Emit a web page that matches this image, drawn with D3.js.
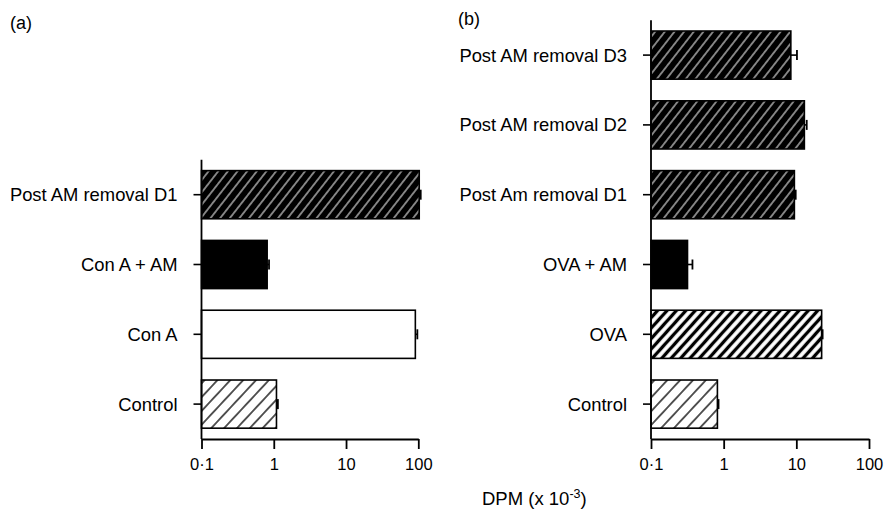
<!DOCTYPE html>
<html><head><meta charset="utf-8">
<script src="https://cdn.jsdelivr.net/npm/d3@7"></script>
<style>body{margin:0;background:#fff}svg{display:block}text{font-family:"Liberation Sans",Arial,Helvetica,sans-serif;fill:#000}</style>
</head><body>
<script>
// Panel (a)
const catsA = ["Post AM removal D1", "Con A + AM", "Con A", "Control"];
const valsA = [103, 0.81, 91, 1.09];
const errA  = [108, 0.86, 97, 1.14];
const fillA = ["dark", "solid", "open", "light"];
// Panel (b)
const catsB = ["Post AM removal D3", "Post AM removal D2", "Post Am removal D1", "OVA + AM", "OVA", "Control"];
const valsB = [8.4, 12.9, 9.4, 0.318, 22.3, 0.82];
const errB  = [10.2, 13.9, 9.8, 0.372, 23, 0.85];
const fillB = ["dark", "dark", "dark", "solid", "heavy", "light"];
const xTicks = [0.1, 1, 10, 100];
const xTickLabels = ["0·1", "1", "10", "100"];

const W = 887, H = 512;
const svg = d3.select("body").append("svg").attr("width", W).attr("height", H);
const defs = svg.append("defs");
function pat(id, w, sw, bg, fg, ang) {
  const p = defs.append("pattern").attr("id", id).attr("patternUnits", "userSpaceOnUse")
    .attr("width", w).attr("height", w).attr("patternTransform", `rotate(${ang})`);
  p.append("rect").attr("width", w).attr("height", w).attr("fill", bg);
  p.append("line").attr("x1", w/2).attr("x2", w/2).attr("y1", 0).attr("y2", w)
    .attr("stroke", fg).attr("stroke-width", sw);
}
pat("p-dark", 7.6, 1, "#000", "#fff", 38);
pat("p-light", 9.4, 1.3, "#fff", "#000", 43);
pat("p-heavy", 7.0, 3.3, "#fff", "#000", 42);
const fillMap = {dark: "url(#p-dark)", solid: "#000", open: "#fff", light: "url(#p-light)", heavy: "url(#p-heavy)"};

const axisY = 439;
const step = 69.8;

function panel(cats, vals, errs, fills, x0, x1, label, lx, ly) {
  const n = cats.length;
  const y = d3.scaleBand().domain(cats).range([axisY - n * step, axisY]).paddingInner(0.31).paddingOuter(0.155);
  const x = d3.scaleLog().domain([0.1, 100]).range([x0, x1]);
  const g = svg.append("g");
  const data = cats.map((c, i) => ({c, v: vals[i], e: errs[i], f: fills[i]}));
  g.selectAll("rect.bar").data(data).join("rect").attr("class", "bar")
    .attr("x", x(0.1)).attr("y", d => y(d.c))
    .attr("width", d => x(d.v) - x(0.1)).attr("height", y.bandwidth())
    .attr("fill", d => fillMap[d.f]).attr("stroke", "#000").attr("stroke-width", 1.6);
  g.selectAll("line.err").data(data).join("line").attr("class", "err")
    .attr("x1", d => x(d.v)).attr("x2", d => x(d.e))
    .attr("y1", d => y(d.c) + y.bandwidth()/2).attr("y2", d => y(d.c) + y.bandwidth()/2)
    .attr("stroke", "#000").attr("stroke-width", 1.6);
  g.selectAll("line.cap").data(data).join("line").attr("class", "cap")
    .attr("x1", d => x(d.e)).attr("x2", d => x(d.e))
    .attr("y1", d => y(d.c) + y.bandwidth()/2 - 5).attr("y2", d => y(d.c) + y.bandwidth()/2 + 5)
    .attr("stroke", "#000").attr("stroke-width", 1.8);
  const ya = g.append("g").attr("transform", `translate(${x0},0)`)
    .call(d3.axisLeft(y).tickSize(8).tickPadding(16).tickSizeOuter(0));
  ya.select(".domain").remove();
  ya.selectAll(".tick line").attr("stroke-width", 1.6);
  ya.selectAll(".tick text").style("font-size", "18.4px").attr("dy", "0.35em");
  g.append("line").attr("x1", x0).attr("x2", x0).attr("y1", axisY - n * step).attr("y2", axisY)
    .attr("stroke", "#000").attr("stroke-width", 1.8);
  const xa = g.append("g").attr("transform", `translate(0,${axisY})`)
    .call(d3.axisBottom(x).tickValues(xTicks).tickFormat((d, i) => xTickLabels[i]).tickSize(10).tickPadding(9).tickSizeOuter(0));
  xa.select(".domain").attr("stroke-width", 1.8);
  xa.selectAll(".tick line").attr("stroke-width", 1.8);
  xa.selectAll(".tick text").style("font-size", "16.5px");
  svg.append("text").attr("x", lx).attr("y", ly).style("font-size", "18px").text(label);
}

panel(catsA, valsA, errA, fillA, 201.5, 418.3, "(a)", 10, 29);
panel(catsB, valsB, errB, fillB, 651, 869, "(b)", 458, 25);

const t = svg.append("text").attr("x", 482).attr("y", 505).style("font-size", "18.5px");
t.append("tspan").text("DPM (x 10");
t.append("tspan").attr("dy", -7).style("font-size", "12.5px").text("-3");
t.append("tspan").attr("dy", 7).text(")");
</script>
</body></html>
